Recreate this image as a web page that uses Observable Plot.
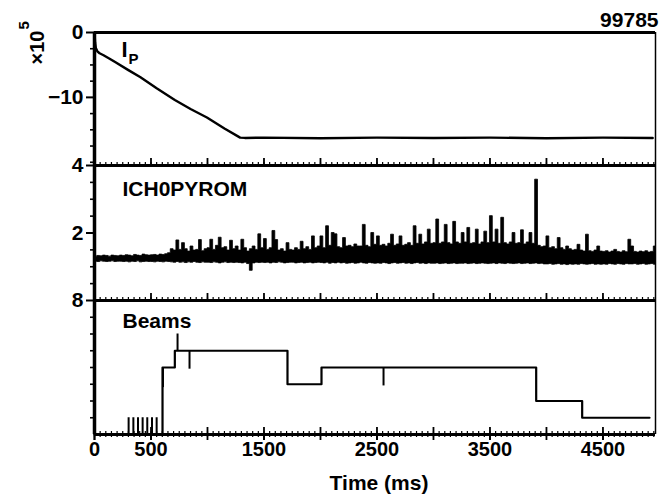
<!DOCTYPE html>
<html><head><meta charset="utf-8">
<script src="https://cdn.jsdelivr.net/npm/d3@7"></script>
<script src="https://cdn.jsdelivr.net/npm/@observablehq/plot@0.6"></script>
<style>
html,body{margin:0;padding:0;background:#fff;}
#chart{position:relative;width:659px;height:495px;overflow:hidden;background:#fff;}
#chart svg{position:absolute;left:0;}
</style></head><body><div id="chart"></div>
<script>
const FONT = '"Liberation Sans", Arial, Helvetica, sans-serif';

// ---- Panel 1: plasma current Ip (x10^5) ----
const ipT = [0, 5, 12, 25, 45, 80, 130, 186, 300, 407, 550, 711, 850, 995, 1150, 1289, 1330, 1500, 2000, 2500, 3000, 3500, 4000, 4500, 4940];
const ipV = [0, -1.5, -2.4, -2.9, -3.2, -3.5, -4.0, -4.6, -5.8, -6.9, -8.6, -10.4, -11.8, -13.1, -14.8, -16.2, -16.25, -16.2, -16.3, -16.2, -16.25, -16.2, -16.3, -16.2, -16.25];

// ---- Panel 2: ICH0PYROM, min/max per 25 ms bin ----
const chStep = 25;
const chHi = [
1.30,1.32,1.31,1.33,1.32,1.30,1.33,1.32,1.31,1.33,
1.32,1.34,1.33,1.31,1.35,1.33,1.32,1.36,1.34,1.33,
1.34,1.35,1.33,1.36,1.35,1.37,1.40,1.52,1.48,1.78,
1.50,1.70,1.52,1.45,1.60,1.48,1.50,1.79,1.46,1.52,
1.55,1.80,1.50,1.62,1.86,1.55,1.58,1.48,1.77,1.52,
1.60,1.48,1.80,1.55,1.45,1.52,1.60,1.50,1.96,1.55,
1.82,1.50,1.55,2.06,1.79,1.48,1.52,1.45,1.70,1.50,
1.48,1.55,1.50,1.74,1.52,1.58,1.50,1.90,1.55,1.60,
1.90,1.55,2.20,1.62,2.00,1.96,1.58,1.55,1.85,1.60,
1.62,1.58,1.66,1.60,1.60,2.24,1.62,1.58,2.00,1.65,
1.90,1.62,1.65,1.60,1.68,1.95,1.62,1.66,1.90,1.62,
1.65,1.70,1.62,2.20,1.68,1.95,1.66,1.72,2.10,1.68,
1.70,2.40,1.68,1.72,2.24,1.70,1.66,2.33,1.72,1.68,
2.00,1.72,2.15,1.68,1.70,2.10,1.66,1.72,2.04,1.70,
2.50,1.72,2.10,1.68,2.45,1.70,1.66,1.72,2.00,1.68,
1.70,2.08,1.66,1.72,2.00,1.68,3.58,1.62,1.58,1.60,
1.90,1.55,1.58,1.52,1.85,1.55,1.50,1.60,1.52,1.48,
1.50,1.65,1.48,1.45,1.95,1.46,1.44,1.48,1.60,1.45,
1.44,1.46,1.42,1.45,1.50,1.44,1.42,1.46,1.43,1.80,
1.60,1.44,1.42,1.45,1.43,1.46,1.42,1.44,1.60,1.45];
const chLo = [
1.15,1.14,1.16,1.15,1.14,1.15,1.16,1.14,1.15,1.15,
1.14,1.15,1.13,1.15,1.14,1.16,1.13,1.14,1.15,1.14,
1.14,1.13,1.15,1.14,1.13,1.15,1.14,1.13,1.12,1.14,
1.12,1.13,1.11,1.13,1.12,1.14,1.12,1.11,1.13,1.12,
1.12,1.11,1.13,1.12,1.10,1.12,1.13,1.11,1.12,1.11,
1.12,1.11,1.10,1.12,1.08,0.88,1.10,1.12,1.11,1.12,
1.11,1.12,1.10,1.12,1.11,1.13,1.12,1.10,1.11,1.12,
1.12,1.10,1.11,1.12,1.10,1.11,1.12,1.10,1.11,1.12,
1.11,1.10,1.12,1.09,1.11,1.10,1.12,1.10,1.11,1.09,
1.10,1.11,1.09,1.10,1.12,1.10,1.09,1.11,1.10,1.09,
1.10,1.09,1.11,1.10,1.08,1.10,1.11,1.09,1.10,1.11,
1.09,1.10,1.08,1.10,1.11,1.09,1.10,1.08,1.10,1.09,
1.09,1.10,1.08,1.09,1.10,1.08,1.09,1.10,1.08,1.09,
1.09,1.10,1.08,1.09,1.10,1.08,1.09,1.10,1.09,1.08,
1.09,1.10,1.08,1.10,1.09,1.08,1.10,1.09,1.08,1.09,
1.10,1.08,1.09,1.10,1.08,1.09,1.10,1.08,1.09,1.07,
1.07,1.08,1.06,1.07,1.08,1.06,1.07,1.05,1.07,1.06,
1.07,1.06,1.08,1.07,1.06,1.07,1.08,1.06,1.07,1.06,
1.07,1.06,1.08,1.07,1.06,1.08,1.07,1.06,1.08,1.07,
1.07,1.08,1.06,1.07,1.08,1.06,1.07,1.08,1.06,1.07];

// ---- Panel 3: Beams ----
const beamT = [0, 602, 711, 1708, 2009, 3909, 4316, 4912];
const beamV = [0, 4, 5, 3, 4, 2, 1, 1];
const spikeT    = [302, 344, 385, 426, 467, 509, 550, 606, 735, 841, 2558];
const spikeFrom = [0, 0, 0, 0, 0, 0, 0, 2.8, 5, 5, 4];
const spikeTo   = [1, 1, 1, 1, 1, 1, 1, 4, 6, 3.9, 2.9];

// ---- axes / labels ----
const xDomain = [0, 4965];
const xLabelTicks = [0, 500, 1500, 2500, 3500, 4500];
const xMajorTicks = [0, 500, 1000, 1500, 2000, 2500, 3000, 3500, 4000, 4500];
const xMinorTicks = d3.range(0, 4965, 50);
const p1Domain = [-20.5, 0], p1Labels = [0, -10], p1Minor = [-2.5, -5, -7.5, -12.5, -15, -17.5, -20];
const p2Domain = [0, 4], p2Labels = [4, 2], p2Minor = [0.5, 1, 1.5, 2.5, 3, 3.5];
const p3Domain = [0, 8], p3Labels = [8], p3Minor = [1, 2, 3, 4, 5, 6, 7];

const W = 659, ML = 94, MR = 4;
const fmt = d => d < 0 ? "\u2212" + Math.abs(d) : String(d);
const style = {overflow: "visible", background: "transparent", fontFamily: FONT, fontWeight: "bold", color: "black"};
function frameMarks(yBottom, frameH, withTop, yTop) {
  const m = [
    Plot.tickX(xMinorTicks, {insetTop: frameH - 3, strokeWidth: 1.2, stroke: "black"}),
    Plot.tickX(xMajorTicks, {insetTop: frameH - 7, strokeWidth: 1.8, stroke: "black"}),
    Plot.ruleY([yBottom], {strokeWidth: 3.2, stroke: "black"}),
    Plot.ruleX([xDomain[0]], {strokeWidth: 3.5, stroke: "black"}),
    Plot.ruleX([xDomain[1]], {strokeWidth: 1.5, stroke: "black"})
  ];
  if (withTop) m.push(Plot.ruleY([yTop], {strokeWidth: 3.2, stroke: "black"}));
  return m;
}
function yAxes(labels, minor) {
  return [
    Plot.axisY({ticks: labels, tickSize: 8, tickPadding: 3, tickFormat: fmt, fontSize: 21, fontWeight: "bold", strokeWidth: 2, label: null}),
    Plot.axisY({ticks: minor, tickSize: 4, tickFormat: () => "", strokeWidth: 1.6, label: null})
  ];
}

const chart = document.getElementById("chart");

// Panel 1
const ipRows = ipT.map((t, i) => ({t, v: ipV[i]}));
const p1 = Plot.plot({
  width: W, height: 165, marginLeft: ML, marginRight: MR, marginTop: 32, marginBottom: 0, style,
  x: {domain: xDomain, axis: null},
  y: {domain: p1Domain},
  marks: [
    ...frameMarks(p1Domain[0], 133, true, p1Domain[1]),
    ...yAxes(p1Labels, p1Minor),
    Plot.line(ipRows, {x: "t", y: "v", stroke: "black", strokeWidth: 2.4}),
    Plot.text(["I"], {frameAnchor: "top-left", dx: 27, dy: 24, lineAnchor: "bottom", textAnchor: "start", fontSize: 22, fontWeight: "bold"}),
    Plot.text(["P"], {frameAnchor: "top-left", dx: 34, dy: 31, lineAnchor: "bottom", textAnchor: "start", fontSize: 15, fontWeight: "bold"}),
    Plot.text(["\u00d710"], {frameAnchor: "top-left", dx: -51, dy: 32, rotate: -90, lineAnchor: "bottom", textAnchor: "start", fontSize: 20, fontWeight: "bold"}),
    Plot.text(["5"], {frameAnchor: "top-left", dx: -66, dy: -3, rotate: -90, lineAnchor: "bottom", textAnchor: "start", fontSize: 15, fontWeight: "bold"}),
    Plot.text(["99785"], {frameAnchor: "top-right", dx: 3, dy: -6, lineAnchor: "bottom", textAnchor: "end", fontSize: 21, fontWeight: "bold"})
  ]
});
p1.style.top = "0px";
chart.appendChild(p1);

// Panel 2
const chRows = chHi.map((h, i) => ({t: i * chStep, hi: h, lo: chLo[i]}));
const p2 = Plot.plot({
  width: W, height: 135, marginLeft: ML, marginRight: MR, marginTop: 0, marginBottom: 0, style,
  x: {domain: xDomain, axis: null},
  y: {domain: p2Domain},
  marks: [
    Plot.areaY(chRows, {x: "t", y1: "lo", y2: "hi", curve: "step-after", fill: "black", stroke: "black", strokeWidth: 0.8, clip: true}),
    ...frameMarks(p2Domain[0], 135, false),
    ...yAxes(p2Labels, p2Minor),
    Plot.text(["ICH0PYROM"], {frameAnchor: "top-left", dx: 28, dy: 30, lineAnchor: "bottom", textAnchor: "start", fontSize: 21, fontWeight: "bold"})
  ]
});
p2.style.top = "165px";
chart.appendChild(p2);

// Panel 3
const beamRows = beamT.map((t, i) => ({t, v: beamV[i]}));
const spikeRows = spikeT.map((t, i) => ({t, from: spikeFrom[i], to: spikeTo[i]}));
const p3 = Plot.plot({
  width: W, height: 195, marginLeft: ML, marginRight: MR, marginTop: 0, marginBottom: 61, style,
  x: {domain: xDomain},
  y: {domain: p3Domain},
  marks: [
    Plot.line(beamRows, {x: "t", y: "v", curve: "step-after", stroke: "black", strokeWidth: 2.2}),
    Plot.ruleX(spikeRows, {x: "t", y1: "from", y2: "to", stroke: "black", strokeWidth: 2}),
    ...frameMarks(p3Domain[0], 134, false),
    ...yAxes(p3Labels, p3Minor),
    Plot.axisX({ticks: xMajorTicks, tickSize: 6, tickFormat: () => "", strokeWidth: 1.8, label: null}),
    Plot.axisX({ticks: xMinorTicks, tickSize: 3, tickFormat: () => "", strokeWidth: 1.2, label: null}),
    Plot.axisX({ticks: xLabelTicks, tickSize: 6, tickPadding: 1, tickFormat: d => String(d), fontSize: 20, fontWeight: "bold", strokeWidth: 1.8, label: null}),
    Plot.text(["Beams"], {frameAnchor: "top-left", dx: 28, dy: 27, lineAnchor: "bottom", textAnchor: "start", fontSize: 21, fontWeight: "bold"}),
    Plot.text(["Time (ms)"], {frameAnchor: "bottom", dx: 4, dy: 55, lineAnchor: "bottom", textAnchor: "middle", fontSize: 21, fontWeight: "bold"})
  ]
});
p3.style.top = "300px";
chart.appendChild(p3);
</script>
</body></html>
